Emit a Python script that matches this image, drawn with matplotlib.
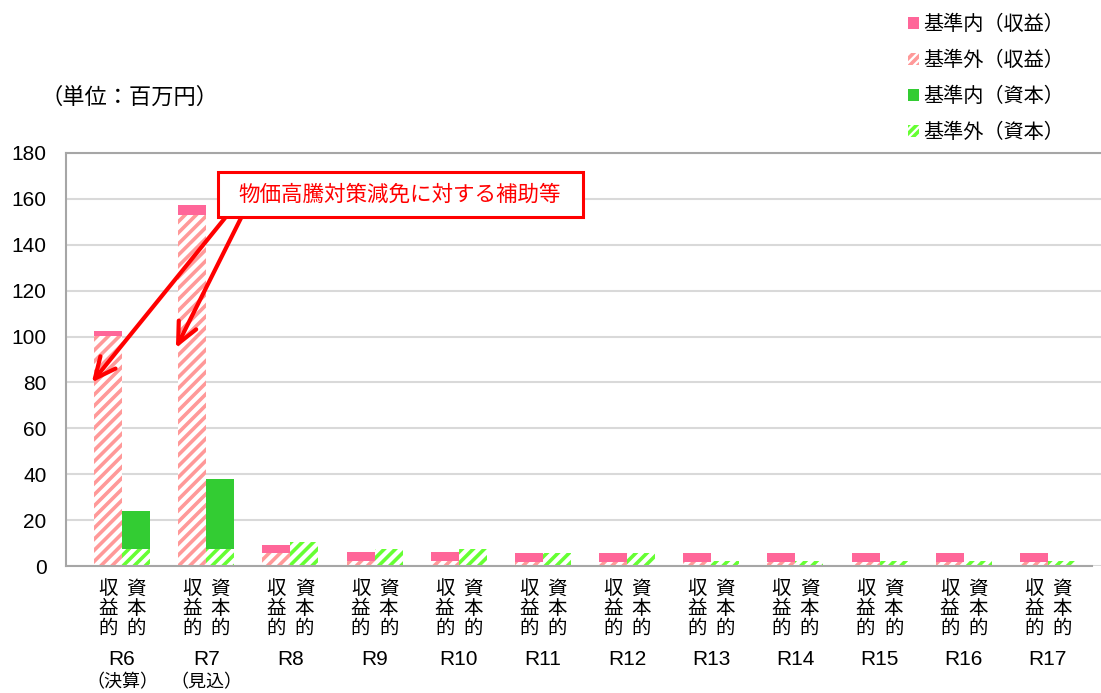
import matplotlib
matplotlib.use('Agg')
import matplotlib.pyplot as plt
from matplotlib.patches import Patch, Rectangle
from matplotlib import transforms
import numpy as np

plt.rcParams['font.family'] = ['Noto Sans CJK JP', 'DejaVu Sans']
plt.rcParams['hatch.linewidth'] = 2.6

# データ（単位：百万円）
categories = ['R6', 'R7', 'R8', 'R9', 'R10', 'R11', 'R12', 'R13', 'R14', 'R15', 'R16', 'R17']
sub_labels = ['（決算）', '（見込）', '', '', '', '', '', '', '', '', '', '']
rev_in = [2.0, 4.5, 3.6, 3.9, 3.7, 3.9, 3.9, 3.9, 3.9, 3.9, 3.9, 3.9]
rev_out = [100.3, 152.9, 5.5, 2.3, 2.3, 1.9, 1.9, 1.9, 1.9, 1.9, 1.9, 1.9]
cap_in = [16.5, 30.3, 0, 0, 0, 0, 0, 0, 0, 0, 0, 0]
cap_out = [7.5, 7.5, 10.3, 7.4, 7.3, 5.7, 5.7, 2.2, 2.2, 2.2, 2.2, 2.2]
series_labels = ['基準内（収益）', '基準外（収益）', '基準内（資本）', '基準外（資本）']
note_text = '物価高騰対策減免に対する補助等'

PINK = '#FF6699'
PINK_H = '#FF9999'
GREEN = '#33CC33'
GREEN_H = '#66FF33'

fig = plt.figure(figsize=(11.01, 6.93), dpi=100)
W, H = 1101, 693
ax = fig.add_axes([66 / W, 1 - 566 / H, 1 - 66 / W, (566 - 153) / H])

x = np.arange(len(categories))
bw = 0.333
xr = x - bw / 2
xc = x + bw / 2

ax.bar(xr, rev_out, bw, color='white', edgecolor=PINK_H, hatch='///', linewidth=0, zorder=2)
ax.bar(xr, rev_in, bw, bottom=rev_out, color=PINK, linewidth=0, zorder=2)
ax.bar(xc, cap_out, bw, color='white', edgecolor=GREEN_H, hatch='///', linewidth=0, zorder=2)
ax.bar(xc, cap_in, bw, bottom=cap_out, color=GREEN, linewidth=0, zorder=2)

x0, x1 = -0.5 - 14 / 84.2, 11.5 + 11 / 84.2
ax.set_xlim(x0, x1)
ax.set_ylim(0, 180)
ax.set_yticks(range(0, 181, 20))
ax.yaxis.grid(True, color='#D9D9D9', linewidth=1.5, zorder=0)
ax.set_axisbelow(True)
ax.set_xticks([])
ax.tick_params(axis='y', length=0, pad=14, labelsize=15)
for lab in ax.get_yticklabels():
    lab.set_fontfamily(['Liberation Sans', 'DejaVu Sans'])
for s in ['left', 'bottom', 'top']:
    ax.spines[s].set_color('#A6A6A6')
    ax.spines[s].set_linewidth(1.5)
ax.spines['right'].set_visible(False)
ax.spines['bottom'].set_bounds(x0, 11.5 + 2 / 84.2)

# 縦書きの区分ラベルと年度
trans = transforms.blended_transform_factory(ax.transData, ax.transAxes)
for i in range(len(categories)):
    for xpos, word in ((xr[i], '収益的'), (xc[i], '資本的')):
        ax.annotate('\n'.join(word), xy=(xpos, 0), xycoords=trans, xytext=(0, -9),
                    textcoords='offset points', ha='center', va='top',
                    fontsize=14, linespacing=0.92, color='#000000')
    ax.annotate(categories[i], xy=(x[i], 0), xycoords=trans, xytext=(0, -67.5),
                textcoords='offset points', ha='center', va='center', fontsize=15,
                family=['Liberation Sans', 'DejaVu Sans'])
    if sub_labels[i]:
        ax.annotate(sub_labels[i], xy=(x[i], 0), xycoords=trans, xytext=(0, -84),
                    textcoords='offset points', ha='center', va='center', fontsize=13)

fig.text(129 / W, 1 - 97 / H, '（単位：百万円）', ha='center', va='center', fontsize=16)

# 凡例
handles = [
    Patch(facecolor=PINK, linewidth=0),
    Patch(facecolor='white', edgecolor=PINK_H, hatch='////', linewidth=0),
    Patch(facecolor=GREEN, linewidth=0),
    Patch(facecolor='white', edgecolor=GREEN_H, hatch='////', linewidth=0),
]
fig.legend(handles, series_labels, loc='upper left', bbox_to_anchor=(900 / W, 1 - 6 / H),
           frameon=False, fontsize=14.5, handlelength=0.55, handleheight=0.55,
           handletextpad=0.2, labelspacing=0.75, borderaxespad=0)

# 注記と矢印
fig.patches.append(Rectangle((218 / W, 1 - 217 / H), (583 - 218) / W, (217 - 172) / H,
                             transform=fig.transFigure, facecolor='white',
                             edgecolor='#FF0000', linewidth=2.2, zorder=5))
fig.text(400 / W, 1 - 195 / H, note_text, ha='center', va='center', fontsize=15.5,
         color='#FF0000', zorder=6)
for start, target in (((225, 218), (-0.36, 80)), ((241, 218), (0.64, 95))):
    ax.annotate('', xy=target, xycoords='data',
                xytext=(start[0] / W, 1 - start[1] / H), textcoords='figure fraction',
                arrowprops=dict(arrowstyle='->,head_length=1.5,head_width=0.7',
                                color='#FF0000', linewidth=3, shrinkA=0, shrinkB=0),
                zorder=6)

fig.savefig('out.png', dpi=100)
